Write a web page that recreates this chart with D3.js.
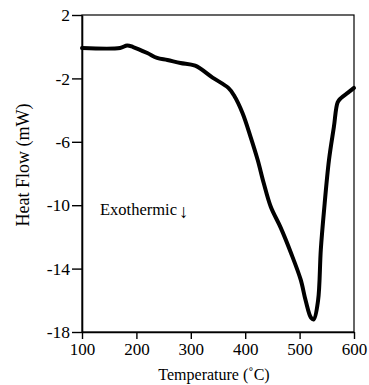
<!DOCTYPE html>
<html>
<head>
<meta charset="utf-8">
<script src="https://cdn.jsdelivr.net/npm/d3@7"></script>
<style>
  body { margin: 0; background: #fff; }
  text { font-family: "Liberation Serif", "Times New Roman", serif; fill: #000; }
</style>
</head>
<body>
<script>
// temperature (C) and heat flow (mW)
const temps = [100, 170, 183, 194, 220, 238, 257, 281, 308, 340, 369, 379, 395, 410, 423, 434, 447, 465, 484, 502, 511, 521, 526, 534, 539, 545, 554, 563, 570, 576, 589, 600];
const heatFlow = [-0.08, -0.08, 0.08, -0.02, -0.4, -0.71, -0.84, -1.03, -1.2, -1.95, -2.6, -3.05, -4.18, -5.7, -7.15, -8.6, -10.1, -11.4, -13.0, -14.7, -16.0, -17.1, -17.2, -16.0, -12.8, -10.3, -7.15, -5.07, -3.5, -3.24, -2.9, -2.6];
const xTicks = [100, 200, 300, 400, 500, 600];
const yTicks = [2, -2, -6, -10, -14, -18];

const width = 369;
const height = 385;
const margin = { top: 15, right: 15, bottom: 53, left: 82 };

const svg = d3.select("body")
    .append("svg")
    .attr("width", width)
    .attr("height", height);

const x = d3.scaleLinear()
    .domain([100, 600])
    .range([margin.left, width - margin.right]);

const y = d3.scaleLinear()
    .domain([-18, 2])
    .range([height - margin.bottom, margin.top]);

// plot frame
svg.append("rect")
    .attr("x", x(100))
    .attr("y", y(2))
    .attr("width", x(600) - x(100))
    .attr("height", y(-18) - y(2))
    .attr("fill", "none")
    .attr("stroke", "#000")
    .attr("stroke-width", 1.2);

// x axis
const xAxis = svg.append("g")
    .attr("transform", "translate(0," + y(-18) + ")")
    .call(d3.axisBottom(x).tickValues(xTicks).tickSize(7).tickPadding(4).tickSizeOuter(0));
xAxis.select(".domain").attr("stroke-width", 1.6);
xAxis.selectAll(".tick line").attr("stroke-width", 1.4);
xAxis.selectAll("text").style("font-size", "17px").attr("fill", "#000");

// y axis
const yAxis = svg.append("g")
    .attr("transform", "translate(" + x(100) + ",0)")
    .call(d3.axisLeft(y).tickValues(yTicks).tickSize(10).tickPadding(2).tickSizeOuter(0)
        .tickFormat(d => d < 0 ? "-" + Math.abs(d) : d));
yAxis.select(".domain").attr("stroke-width", 1.6);
yAxis.selectAll(".tick line").attr("stroke-width", 1.4);
yAxis.selectAll("text").style("font-size", "17.5px").attr("fill", "#000");

// DSC trace
const line = d3.line()
    .x((d, i) => x(temps[i]))
    .y(d => y(d))
    .curve(d3.curveCatmullRom.alpha(0.5));

svg.append("path")
    .datum(heatFlow)
    .attr("d", line)
    .attr("fill", "none")
    .attr("stroke", "#000")
    .attr("stroke-width", 4)
    .attr("stroke-linejoin", "round")
    .attr("stroke-linecap", "round");

// annotation
const note = svg.append("text")
    .attr("x", 100)
    .attr("y", 215)
    .style("font-size", "16.5px")
    .text("Exothermic");
note.append("tspan")
    .attr("dx", 2)
    .attr("dy", 3)
    .style("font-size", "19px")
    .text("\u2193");

// x label
svg.append("text")
    .attr("x", 214)
    .attr("y", 380)
    .attr("text-anchor", "middle")
    .style("font-size", "16px")
    .text("Temperature (\u02DAC)");

// y label
svg.append("text")
    .attr("transform", "translate(29," + 165 + ") rotate(-90)")
    .attr("text-anchor", "middle")
    .style("font-size", "18px")
    .text("Heat Flow (mW)");
</script>
</body>
</html>
